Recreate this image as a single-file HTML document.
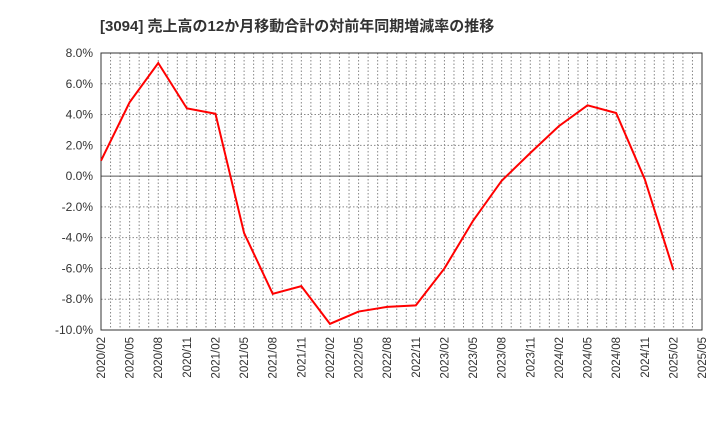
<!DOCTYPE html>
<html><head><meta charset="utf-8"><style>
body{margin:0;background:#fff;width:720px;height:440px;overflow:hidden}
text{font-family:"Liberation Sans","Noto Sans CJK JP",sans-serif}
</style></head><body>
<svg id="c" width="720" height="440" xmlns="http://www.w3.org/2000/svg">
<text x="100" y="31" font-size="15" font-weight="bold" fill="#333">[3094]  売上高の12か月移動合計の対前年同期増減率の推移</text>
</svg>
<script>
const categories=["2020/02","2020/05","2020/08","2020/11","2021/02","2021/05","2021/08","2021/11","2022/02","2022/05","2022/08","2022/11","2023/02","2023/05","2023/08","2023/11","2024/02","2024/05","2024/08","2024/11","2025/02","2025/05"];
const values=[1.0,4.8,7.35,4.4,4.05,-3.7,-7.65,-7.15,-9.6,-8.8,-8.5,-8.4,-6.0,-2.9,-0.3,1.5,3.25,4.6,4.1,-0.2,-6.1];
const yTicks=[8,6,4,2,0,-2,-4,-6,-8,-10];
const svg=document.getElementById('c');const NS='http://www.w3.org/2000/svg';
const L=101,R=702,T=53,B=330,yMin=-10,yMax=8;
const n=categories.length-1;
const x=i=>L+(R-L)*i/n;
const y=v=>B-(v-yMin)/(yMax-yMin)*(B-T);
function mk(t,a){const e=document.createElementNS(NS,t);for(const k in a)e.setAttribute(k,a[k]);svg.appendChild(e);return e;}
for(let m=1;m<n*3;m++){const xx=L+(R-L)*m/(n*3);
const g=mk('line',{x1:xx,x2:xx,y1:T,y2:B,stroke:'#888','stroke-dasharray':'1.5,2','stroke-width':1});

}
yTicks.forEach(v=>{const g=mk('line',{x1:L,x2:R,y1:y(v),y2:y(v),stroke:v===0?'#555':'#888','stroke-dasharray':v===0?'none':'1.5,2','stroke-width':1});


const t=mk('text',{x:L-8,y:y(v)+4,'text-anchor':'end','font-size':12,fill:'#333'});t.textContent=v.toFixed(1)+'%';

});
categories.forEach((c,i)=>{const t=mk('text',{transform:`translate(${x(i)+4},${B+7}) rotate(-90)`,'text-anchor':'end','font-size':11.5,fill:'#333'});t.textContent=c;

});
const f=mk('rect',{x:L,y:T,width:R-L,height:B-T,fill:'none',stroke:'#333','stroke-width':1});


const p=mk('polyline',{points:values.map((v,i)=>x(i)+','+y(v)).join(' '),fill:'none',stroke:'#f00','stroke-width':2,'stroke-linejoin':'miter'});


</script>
</body></html>
